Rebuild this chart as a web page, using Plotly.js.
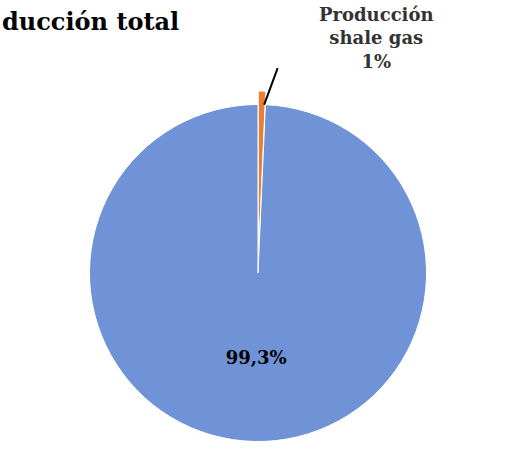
<!DOCTYPE html>
<html><head><meta charset="utf-8">
<script src="https://cdn.plot.ly/plotly-3.0.1.min.js"></script>
<style>body{margin:0}</style></head>
<body><div id="plot" style="width:516px;height:455px"></div>
<script>
var labels = ['Producción shale gas', 'Resto producción'];
var values = [0.7, 99.3];
var colors = ['#ED7D31', '#6F93D6'];

var trace = {
  type: 'pie',
  labels: labels,
  values: values,
  sort: false,
  direction: 'clockwise',
  rotation: 0,
  pull: [0.08, 0],
  marker: {colors: colors, line: {color: '#ffffff', width: 1}},
  text: ['', '<b>99,3%</b>'],
  textinfo: 'text',
  textposition: 'inside',
  insidetextorientation: 'horizontal',
  textfont: {family: 'DejaVu Serif', size: 18, color: '#000'},
  hoverinfo: 'label+percent',
  domain: {x: [0, 1], y: [0, 0.8]}
};

var layout = {
  showlegend: false,
  margin: {l: 0, r: 0, t: 0, b: 0},
  paper_bgcolor: '#fff',
  annotations: [
    {text: '<b>ducción total</b>', x: 0, y: 0.99, xref: 'paper', yref: 'paper',
     xanchor: 'left', yanchor: 'top', showarrow: false,
     font: {family: 'DejaVu Serif', size: 24, color: '#000'}},
    {text: '<b>Producción<br>shale gas<br>1%</b>', x: 0.73, y: 0.995, xref: 'paper', yref: 'paper',
     xanchor: 'center', yanchor: 'top', showarrow: false,
     font: {family: 'DejaVu Serif', size: 18, color: '#333'}},
    {x: 0.512, y: 0.77, xref: 'paper', yref: 'paper',
     text: '', showarrow: true, arrowhead: 0, arrowwidth: 2, arrowcolor: '#000',
     ax: 14, ay: -38}
  ]
};
Plotly.newPlot('plot', [trace], layout, {displayModeBar: false});
</script></body></html>
